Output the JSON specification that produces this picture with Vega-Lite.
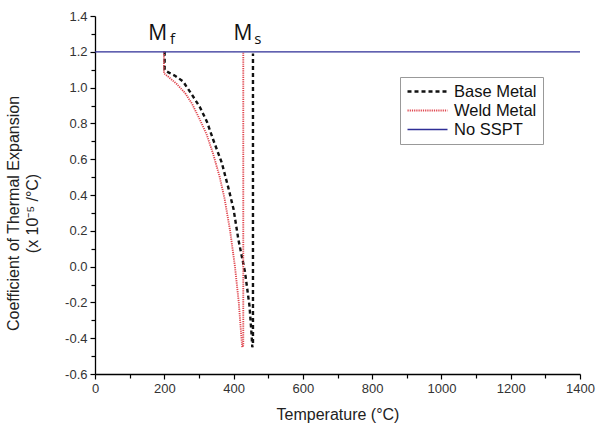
{
  "$schema": "https://vega.github.io/schema/vega-lite/v6.json",
  "autosize": {"type": "none"},
  "padding": {"left": 95, "top": 16, "right": 16, "bottom": 63},
  "width": 485,
  "height": 358,
  "background": "white",
  "config": {
    "view": {"stroke": null},
    "font": "Liberation Sans"
  },
  "datasets": {
    "curves": [
      {"series": "Base Metal", "i": 1, "T": 201, "CTE": 1.2},
      {"series": "Base Metal", "i": 2, "T": 201, "CTE": 1.1},
      {"series": "Base Metal", "i": 3, "T": 212, "CTE": 1.085},
      {"series": "Base Metal", "i": 4, "T": 232, "CTE": 1.065},
      {"series": "Base Metal", "i": 5, "T": 254, "CTE": 1.035},
      {"series": "Base Metal", "i": 6, "T": 280, "CTE": 0.96},
      {"series": "Base Metal", "i": 7, "T": 303, "CTE": 0.89},
      {"series": "Base Metal", "i": 8, "T": 323, "CTE": 0.81},
      {"series": "Base Metal", "i": 9, "T": 341, "CTE": 0.71},
      {"series": "Base Metal", "i": 10, "T": 366, "CTE": 0.58},
      {"series": "Base Metal", "i": 11, "T": 385, "CTE": 0.44},
      {"series": "Base Metal", "i": 12, "T": 400, "CTE": 0.32},
      {"series": "Base Metal", "i": 13, "T": 414, "CTE": 0.15},
      {"series": "Base Metal", "i": 14, "T": 433, "CTE": -0.03},
      {"series": "Base Metal", "i": 15, "T": 446, "CTE": -0.22},
      {"series": "Base Metal", "i": 16, "T": 452, "CTE": -0.38},
      {"series": "Base Metal", "i": 17, "T": 454, "CTE": -0.45},
      {"series": "Base Metal", "i": 18, "T": 456, "CTE": -0.44},
      {"series": "Base Metal", "i": 19, "T": 456, "CTE": 1.19},
      {"series": "Weld Metal", "i": 1, "T": 199, "CTE": 1.2},
      {"series": "Weld Metal", "i": 2, "T": 199, "CTE": 1.08},
      {"series": "Weld Metal", "i": 3, "T": 212, "CTE": 1.06},
      {"series": "Weld Metal", "i": 4, "T": 236, "CTE": 1.02},
      {"series": "Weld Metal", "i": 5, "T": 260, "CTE": 0.97},
      {"series": "Weld Metal", "i": 6, "T": 280, "CTE": 0.91},
      {"series": "Weld Metal", "i": 7, "T": 303, "CTE": 0.82},
      {"series": "Weld Metal", "i": 8, "T": 322, "CTE": 0.74},
      {"series": "Weld Metal", "i": 9, "T": 341, "CTE": 0.63},
      {"series": "Weld Metal", "i": 10, "T": 360, "CTE": 0.5},
      {"series": "Weld Metal", "i": 11, "T": 374, "CTE": 0.38},
      {"series": "Weld Metal", "i": 12, "T": 390, "CTE": 0.2},
      {"series": "Weld Metal", "i": 13, "T": 404, "CTE": 0.0},
      {"series": "Weld Metal", "i": 14, "T": 415, "CTE": -0.2},
      {"series": "Weld Metal", "i": 15, "T": 422, "CTE": -0.38},
      {"series": "Weld Metal", "i": 16, "T": 425, "CTE": -0.45},
      {"series": "Weld Metal", "i": 17, "T": 428, "CTE": -0.44},
      {"series": "Weld Metal", "i": 18, "T": 428, "CTE": 1.2},
      {"series": "No SSPT", "i": 1, "T": 0, "CTE": 1.2},
      {"series": "No SSPT", "i": 2, "T": 1400, "CTE": 1.2}
    ],
    "bigM": [
      {"T": 181, "CTE": 1.265, "txt": "M"},
      {"T": 427, "CTE": 1.265, "txt": "M"}
    ],
    "subs": [
      {"T": 224, "CTE": 1.243, "txt": "f"},
      {"T": 470, "CTE": 1.243, "txt": "s"}
    ]
  },
  "resolve": {"axis": {"x": "independent", "y": "independent"}},
  "layer": [
    {
      "data": {"name": "curves"},
      "mark": {"type": "line", "strokeCap": "butt"},
      "encoding": {
        "x": {
          "field": "T", "type": "quantitative",
          "scale": {"domain": [0, 1400], "nice": false, "zero": false},
          "axis": {
            "orient": "bottom",
            "title": "Temperature (°C)",
            "titleFont": "Liberation Sans", "titleFontSize": 16, "titleFontWeight": "normal", "titleColor": "#222",
            "titlePadding": 11,
            "values": [0, 200, 400, 600, 800, 1000, 1200, 1400],
            "format": "d",
            "labelFontSize": 13, "labelColor": "#333", "labelPadding": 3,
            "tickSize": 5,
            "tickColor": "#000", "domainColor": "#000", "domainWidth": 1.3, "tickWidth": 1.2,
            "grid": false, "labelFlush": false, "labelOverlap": false
          }
        },
        "y": {
          "field": "CTE", "type": "quantitative",
          "scale": {"domain": [-0.6, 1.4], "nice": false, "zero": false},
          "axis": {
            "orient": "left",
            "title": ["Coefficient of Thermal Expansion", "(x 10⁻⁵ /°C)"],
            "titleFont": "Liberation Sans", "titleFontSize": 16, "titleFontWeight": "normal", "titleColor": "#222",
            "titleX": -74, "titleY": 197, "titleAlign": "center", "titleLineHeight": 19,
            "values": [-0.6, -0.4, -0.2, 0, 0.2, 0.4, 0.6, 0.8, 1.0, 1.2, 1.4],
            "labelExpr": "replace(format(datum.value, '.1f'), '−', '-')",
            "labelFontSize": 13, "labelColor": "#333", "labelPadding": 3,
            "tickSize": 5,
            "tickColor": "#000", "domainColor": "#000", "domainWidth": 1.3, "tickWidth": 1.2,
            "grid": false, "labelFlush": false, "labelOverlap": false
          }
        },
        "order": {"field": "i", "type": "quantitative"},
        "color": {
          "field": "series", "type": "nominal",
          "scale": {"domain": ["Base Metal", "Weld Metal", "No SSPT"], "range": ["#111111", "#e0464e", "#2e2e96"]},
          "legend": {
            "title": null, "orient": "none", "legendX": 305, "legendY": 61,
            "strokeColor": "#999", "padding": 6, "fillColor": "white",
            "symbolType": "stroke", "symbolSize": 1600, "symbolStrokeWidth": 2,
            "labelFontSize": 16.5, "labelFont": "Liberation Sans", "labelColor": "#111",
            "clipHeight": 17, "rowPadding": 2, "labelOffset": 5
          }
        },
        "strokeDash": {
          "field": "series", "type": "nominal",
          "scale": {"domain": ["Base Metal", "Weld Metal", "No SSPT"], "range": [[4, 3], [1.2, 1], [1, 0]]}
        },
        "strokeWidth": {
          "field": "series", "type": "nominal",
          "scale": {"domain": ["Base Metal", "Weld Metal", "No SSPT"], "range": [2.4, 1.3, 2]},
          "legend": null
        }
      }
    },
    {
      "data": {"name": "bigM"},
      "mark": {"type": "text", "font": "Open Sans", "fontSize": 21, "align": "center", "baseline": "alphabetic", "color": "#111"},
      "encoding": {
        "x": {"field": "T", "type": "quantitative", "axis": null},
        "y": {"field": "CTE", "type": "quantitative", "axis": null},
        "text": {"field": "txt"}
      }
    },
    {
      "data": {"name": "subs"},
      "mark": {"type": "text", "font": "Open Sans", "fontSize": 15, "align": "center", "baseline": "alphabetic", "color": "#111"},
      "encoding": {
        "x": {
          "field": "T", "type": "quantitative",
          "axis": {
            "orient": "bottom", "title": null, "labels": false, "domain": false, "grid": false,
            "values": [100, 300, 500, 700, 900, 1100, 1300],
            "tickSize": 4, "tickColor": "#000", "tickWidth": 1.2
          }
        },
        "y": {
          "field": "CTE", "type": "quantitative",
          "axis": {
            "orient": "left", "title": null, "labels": false, "domain": false, "grid": false,
            "values": [-0.5, -0.3, -0.1, 0.1, 0.3, 0.5, 0.7, 0.9, 1.1, 1.3],
            "tickSize": 4, "tickColor": "#000", "tickWidth": 1.2
          }
        },
        "text": {"field": "txt"}
      }
    }
  ]
}
